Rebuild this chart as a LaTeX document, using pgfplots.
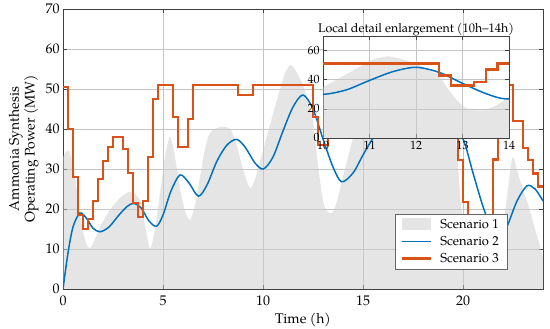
\documentclass[border=0pt]{standalone}
\usepackage{fontspec}
\setmainfont{TeX Gyre Pagella}
\usepackage{pgfplots}
\usepackage{pgfplotstable}
\pgfplotsset{compat=1.18}
\usetikzlibrary{calc}
\definecolor{sblue}{HTML}{0072BD}
\definecolor{sorange}{HTML}{D95319}
\definecolor{sgrid}{HTML}{C4C4C4}

% scenario 1: grey area
\pgfplotstableread{
x y
0 33
0.3 34.5
0.6 28
0.9 17
1.15 11.5
1.35 10.2
1.6 12.5
1.85 15.6
2.35 19.8
2.85 22.7
3.35 24.3
3.85 22.2
4.1 16
4.35 10.2
4.6 15
4.85 24
5.1 33
5.35 38
5.6 33
5.85 25
6.1 19.5
6.35 17.3
6.6 21
6.85 28
7.1 35
7.35 39
7.85 40.5
8.35 40
8.65 36.5
9.0 30
9.35 25.2
9.6 27.5
9.85 32
10.1 36.5
10.35 41
10.85 50
11.1 54
11.4 56
11.7 54
12.0 51
12.25 47
12.5 42
12.75 31
13.0 22
13.2 19.5
13.45 19
13.7 22
13.95 27
14.2 32
14.5 37.75
14.8 42
15.2 46
15.6 48
16.0 47
16.5 43
17.0 46
17.5 52
18.0 53
18.5 48
19.0 45
19.4 43
19.6 40
19.75 31
19.9 21
20.1 15
20.6 11
21.2 9.5
21.7 11
22.0 16
22.2 23
22.35 29
22.5 33
22.8 28
23.2 22
23.6 15
24.0 8
}\sone

% scenario 2: blue line
\pgfplotstableread{
x y
0 0
0.25 9
0.5 15.5
0.85 19
1.2 17.5
1.5 15.2
1.85 14.3
2.3 15.5
2.8 18.5
3.2 20.6
3.52 21.4
3.9 20.3
4.3 17
4.68 15.7
5.0 18.5
5.4 24.5
5.85 28.5
6.3 26.5
6.77 23.2
7.2 26
7.7 32
8.2 36
8.68 37.4
9.1 35.5
9.6 31.5
10.02 30
10.5 33
11.0 39.5
11.5 45.5
12.0 48.5
12.5 45
13.0 37.5
13.5 30.5
13.93 26.8
14.5 29
15.0 33.5
15.5 37.75
16.2 43
17.0 47
17.8 48
18.6 46
19.3 42
20.0 37.5
20.5 29
21.0 20.6
21.5 14
21.8 12.5
22.2 15.6
22.7 22
23.2 25.8
23.6 25
24.0 22
}\stwo

% scenario 3: orange steps (value holds until next x)
\pgfplotstableread{
x y
0 50.5
0.25 40
0.5 28
0.75 18.5
1.0 15
1.25 17.5
1.5 22
1.75 27.5
2.0 32
2.25 35.5
2.5 38
3.0 35
3.25 29
3.5 21.5
3.75 18
4.0 22
4.25 33
4.5 47.5
4.75 51
5.5 43
5.75 35.5
6.25 42.5
6.5 51
8.75 48.5
9.5 51
12.5 43
12.75 36
13.25 38.5
13.5 47
13.75 51
19.5 44
19.75 32.2
20.0 21.8
20.25 14
20.5 9
20.75 8
21.0 10
21.25 17
21.5 32.4
21.75 44
22.0 51
22.5 42
23.0 35.2
23.25 32.2
23.5 28.9
23.75 25.6
24.0 25.6
}\sthree

\pgfplotsset{
  fig/.style={
    scale only axis,
    tick align=inside,
    major tick length=4bp,
    grid=major,
    grid style={draw=sgrid, line width=0.5bp},
    axis line style={draw=black!75, line width=0.6bp},
    tick style={draw=black!75, line width=0.5bp},
    /pgf/number format/assume math mode=true,
  },
  s1/.style={draw=none, fill=black!20, fill opacity=0.5, smooth},
  s2/.style={color=sblue, line width=1.5bp, smooth},
  s3/.style={color=sorange, line width=2.4bp, const plot},
  arealeg/.style={legend image code/.code={\fill[black!20, fill opacity=0.5] (0bp,-6bp) rectangle (29bp,6bp);}},
  lineleg/.style={legend image code/.code={\draw[##1] (0bp,0bp) -- (29bp,0bp);}},
}

\begin{document}
\begin{tikzpicture}
\begin{axis}[
  fig,
  name=main,
  width=480bp,
  height=280bp,
  xmin=0, xmax=24,
  ymin=0, ymax=70,
  xtick={0,5,10,15,20},
  ytick={0,10,...,70},
  tick label style={font=\fontsize{14}{16}\selectfont},
  xticklabel style={yshift=-3bp},
  label style={font=\fontsize{14}{16}\selectfont},
  xlabel={Time (h)},
  ylabel={Ammonia Synthesis\\Operating Power (MW)},
  ylabel style={align=center},
  xlabel style={yshift=-1bp},
  legend style={
    at={(0.925,0.071)}, anchor=south east,
    draw=black!60, fill=white, line width=0.5bp,
    font=\fontsize{13}{15}\selectfont,
    cells={anchor=west},
    row sep=2.5bp,
    inner xsep=6bp, inner ysep=3bp,
    /tikz/every odd column/.append style={column sep=6bp},
  },
]
\addplot[s1, arealeg] table {\sone} \closedcycle;
\addlegendentry{Scenario 1}
\addplot[s2, lineleg] table {\stwo};
\addlegendentry{Scenario 2}
\addplot[s3, lineleg] table {\sthree};
\addlegendentry{Scenario 3}
\end{axis}

\begin{axis}[
  fig,
  at={($(main.south west)+(260bp,151bp)$)},
  anchor=south west,
  width=186bp,
  height=102bp,
  xmin=10, xmax=14,
  ymin=0, ymax=70,
  xtick={10,11,12,13,14},
  ytick={0,20,40,60},
  axis background/.style={fill=white},
  tick label style={font=\fontsize{12}{14}\selectfont},
  title={Local detail enlargement (10h--14h)},
  title style={font=\fontsize{12.5}{14}\selectfont, yshift=-10bp},
]
\addplot[s1] table {\sone} \closedcycle;
\addplot[s2] table {\stwo};
\addplot[s3] table {\sthree};
\end{axis}

\pgfresetboundingbox
\path ($(main.south west)+(-63bp,-40bp)$) rectangle ($(main.north east)+(7bp,9bp)$);
\end{tikzpicture}
\end{document}
